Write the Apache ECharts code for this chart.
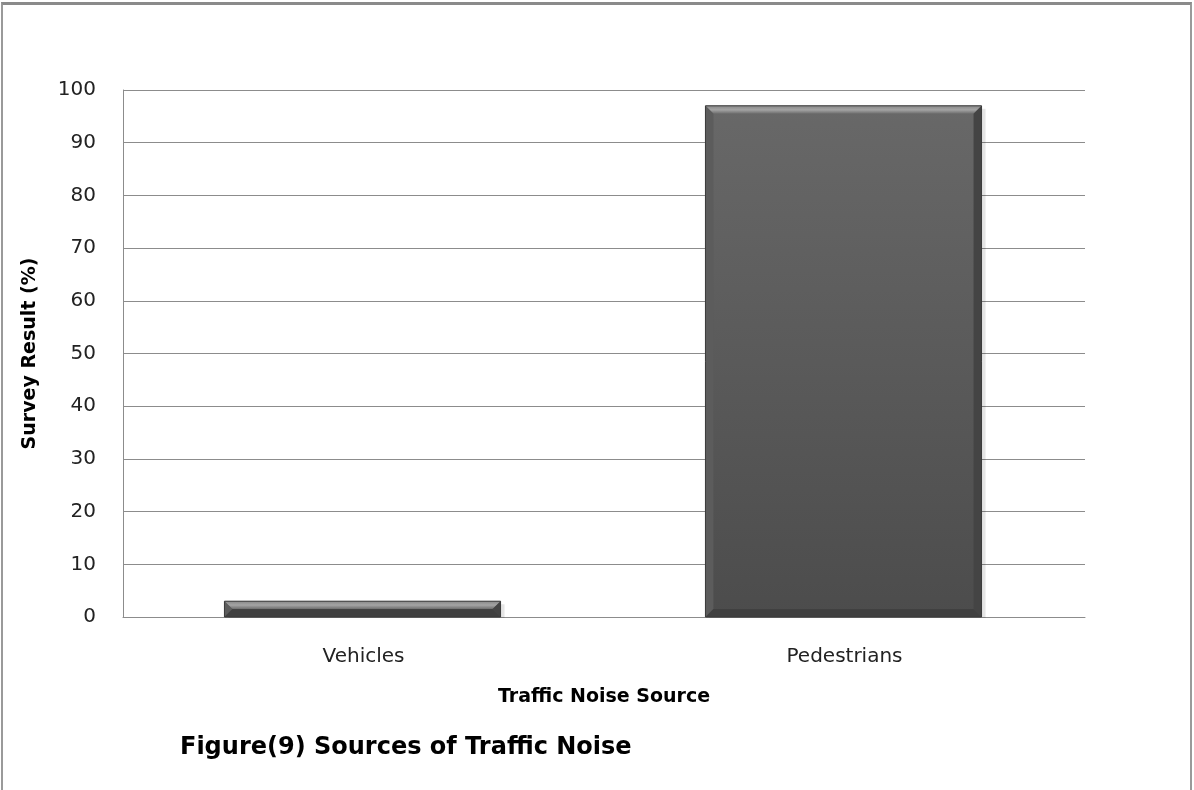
<!DOCTYPE html>
<html>
<head>
<meta charset="utf-8">
<script src="https://cdn.jsdelivr.net/npm/echarts@6/dist/echarts.min.js"></script>
<style>
  html, body { margin: 0; padding: 0; background: #fff; }
  #frame { position: absolute; left: 1px; top: 2px; width: 1191px; height: 800px;
           border-top: 3px solid #8a8a8a; border-left: 2px solid #9a9a9a; border-right: 2px solid #9a9a9a; box-sizing: border-box; }
  #chart { position: absolute; left: 0; top: 0; width: 1194px; height: 790px; }
</style>
</head>
<body>
<div id="frame"></div>
<div id="chart"></div>
<script>
// Survey: which source of traffic noise respondents reported (%)
const categories = ['Vehicles', 'Pedestrians'];
const surveyValues = [3, 97];
const yTicks = [0, 10, 20, 30, 40, 50, 60, 70, 80, 90, 100];

const chart = echarts.init(document.getElementById('chart'), null, { renderer: 'canvas' });

// Beveled bar: main face plus four trapezoid edges
function renderBevelBar(params, api) {
  const idx = api.value(0);
  const val = api.value(1);
  const top = api.coord([idx, val]);
  const base = api.coord([idx, 0]);
  const band = api.size([1, 0])[0];
  const w = band * 0.574;
  const x0 = top[0] - w / 2 - 1, x1 = top[0] + w / 2 - 1;
  const y0 = top[1], y1 = base[1];
  const h = y1 - y0;
  const b = Math.min(8, h / 2);
  const children = [
    { type: 'rect', shape: { x: x0 + 4, y: y0 + 3, width: w, height: h - 2 },
      style: { fill: 'rgba(0,0,0,0.10)' } },
    { type: 'rect', shape: { x: x0, y: y0, width: w, height: h },
      style: { fill: new echarts.graphic.LinearGradient(0, 0, 0, 1, [
        { offset: 0, color: '#686868' }, { offset: 1, color: '#4c4c4c' }]) } },
    { type: 'polygon', shape: { points: [[x0, y0], [x1, y0], [x1 - b, y0 + b], [x0 + b, y0 + b]] },
      style: { fill: new echarts.graphic.LinearGradient(0, 0, 0, 1, [
        { offset: 0, color: '#888888' }, { offset: 0.5, color: '#a4a4a4' }, { offset: 1, color: '#6c6c6c' }]) } },
    { type: 'polygon', shape: { points: [[x0, y0], [x0 + b, y0 + b], [x0 + b, y1 - b], [x0, y1]] },
      style: { fill: '#5c5c5c' } },
    { type: 'polygon', shape: { points: [[x1, y0], [x1 - b, y0 + b], [x1 - b, y1 - b], [x1, y1]] },
      style: { fill: '#444444' } },
    { type: 'polygon', shape: { points: [[x0, y1], [x0 + b, y1 - b], [x1 - b, y1 - b], [x1, y1]] },
      style: { fill: '#404040' } },
    { type: 'rect', shape: { x: x0, y: y0, width: w, height: h },
      style: { fill: 'none', stroke: '#3a3a3a', lineWidth: 1 } }
  ];
  return { type: 'group', children: children };
}

chart.setOption({
  backgroundColor: 'transparent',
  animation: false,
  grid: { left: 123, right: 109, top: 90, bottom: 173, containLabel: false },
  title: {
    text: 'Figure(9) Sources of Traffic Noise',
    left: 175, top: 731,
    textStyle: { fontFamily: 'DejaVu Sans', fontWeight: 'bold', fontSize: 24, color: '#000' }
  },
  xAxis: {
    type: 'category',
    data: categories,
    name: 'Traffic Noise Source',
    nameLocation: 'middle',
    nameGap: 71,
    nameTextStyle: { fontFamily: 'DejaVu Sans', fontWeight: 'bold', fontSize: 19, color: '#000' },
    axisLine: { lineStyle: { color: '#8c8c8c', width: 1 } },
    axisTick: { show: false },
    axisLabel: { fontFamily: 'DejaVu Sans', fontSize: 20, color: '#222', margin: 30 }
  },
  yAxis: {
    type: 'value',
    min: yTicks[0], max: yTicks[yTicks.length - 1], interval: yTicks[1] - yTicks[0],
    name: 'Survey Result (%)',
    nameLocation: 'middle',
    nameGap: 83,
    nameRotate: 90,
    nameTextStyle: { fontFamily: 'DejaVu Sans', fontWeight: 'bold', fontSize: 19, color: '#000' },
    axisLine: { show: true, lineStyle: { color: '#8c8c8c', width: 1 } },
    axisTick: { show: false },
    splitLine: { lineStyle: { color: '#8c8c8c', width: 1 } },
    axisLabel: { fontFamily: 'DejaVu Sans', fontSize: 20, color: '#222', margin: 27 }
  },
  series: [{
    type: 'custom',
    renderItem: renderBevelBar,
    encode: { x: 0, y: 1 },
    data: surveyValues.map((v, i) => [i, v])
  }]
});
</script>
</body>
</html>
